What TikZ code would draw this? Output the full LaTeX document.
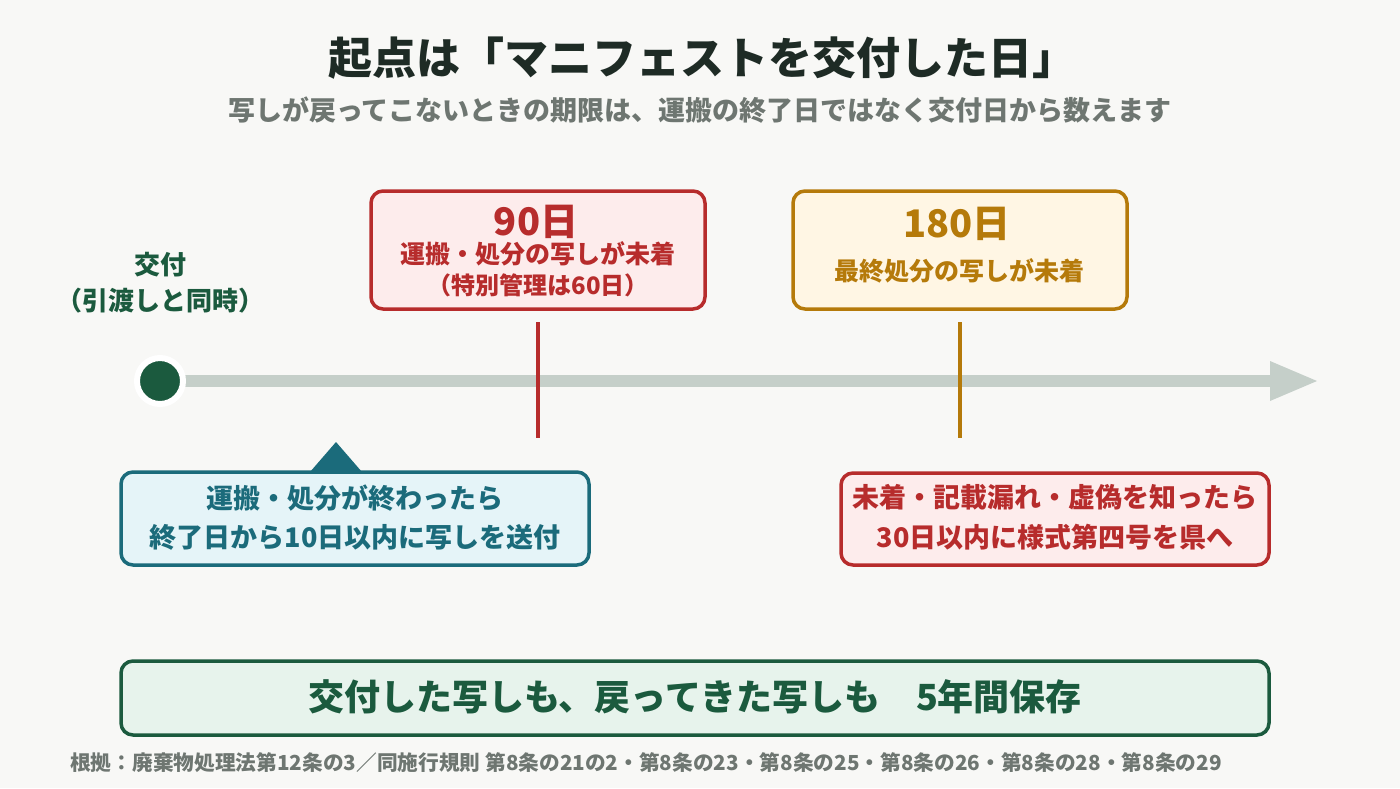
\documentclass[tikz,border=0pt]{standalone}
\usepackage{fontspec}
\setmainfont{Noto Sans CJK JP}
\usetikzlibrary{positioning}

\definecolor{bgc}{HTML}{F8F8F6}
\definecolor{ink}{HTML}{1E2B25}
\definecolor{subc}{HTML}{6E7671}
\definecolor{grn}{HTML}{1B5A3E}
\definecolor{grnfill}{HTML}{E7F3EC}
\definecolor{rail}{HTML}{C5CFC9}
\definecolor{red}{HTML}{B72C2C}
\definecolor{redfill}{HTML}{FDECEC}
\definecolor{gold}{HTML}{B57A0A}
\definecolor{goldfill}{HTML}{FFF6E4}
\definecolor{teal}{HTML}{1B6B7B}
\definecolor{tealfill}{HTML}{E5F4F8}

\newcommand{\fs}[1]{\bfseries\fontsize{#1}{#1}\selectfont}

\begin{document}
\begin{tikzpicture}[x=1pt, y=-1pt,
  card/.style={draw, rectangle, rounded corners=12pt, line width=3.5pt, inner sep=0pt},
  tick/.style={line width=4pt},
  lbl/.style={inner sep=0pt, align=center}
]
  % 背景
  \fill[bgc] (0,0) rectangle (1400,788);
  \useasboundingbox (0,0) rectangle (1400,788);

  % タイトル
  \node[lbl, text=ink, font=\fs{44}] (title) at (702,58) {起点は「マニフェストを交付した日」};
  \node[lbl, text=subc, font=\fs{27}] (sub) at (700,110) {写しが戻ってこないときの期限は、運搬の終了日ではなく交付日から数えます};

  % 時間軸
  \coordinate (railend) at (1272,381);
  \coordinate (tip) at (1317,381);
  \draw[rail, line width=12pt] (160,381) -- (railend);
  \fill[rail] (1270,361) -- (tip) -- (1270,401) -- cycle;
  \node[circle, fill=grn, draw=white, line width=6pt, minimum size=46pt, inner sep=0pt] (start) at (160,381) {};

  % 起点ラベル
  \node[lbl, text=grn, font=\fs{26}] (kofu) at (160,265) {交付};
  \node[lbl, text=grn, font=\fs{26}] (kofu2) at (160,301) {（引渡しと同時）};

  % 90日
  \node[card, draw=red, fill=redfill, minimum width=334pt, minimum height=118pt] (b90) at (538,250) {};
  \node[lbl, text=red, font=\fs{38}] at (536,222) {90日};
  \node[lbl, text=red, font=\fs{25}] at (538,254) {運搬・処分の写しが未着};
  \node[lbl, text=red, font=\fs{24}] at (538,285) {（特別管理は60日）};
  \coordinate (t90a) at (538,322);
  \coordinate (t90b) at (538,438);
  \draw[tick, red] (t90a) -- (t90b);

  % 180日
  \node[card, draw=gold, fill=goldfill, minimum width=334pt, minimum height=118pt] (b180) at (960,250) {};
  \node[lbl, text=gold, font=\fs{38}] at (957,224) {180日};
  \node[lbl, text=gold, font=\fs{25}] at (959,271) {最終処分の写しが未着};
  \coordinate (t180a) at (960,322);
  \coordinate (t180b) at (960,438);
  \draw[tick, gold] (t180a) -- (t180b);

  % 送付期限
  \node[card, draw=teal, fill=tealfill, minimum width=468pt, minimum height=93pt] (send) at (355,518.5) {};
  \fill[teal] (310,472) -- (336,442) -- (362,472) -- cycle;
  \node[lbl, text=teal, font=\fs{27}] at (355,498) {運搬・処分が終わったら};
  \node[lbl, text=teal, font=\fs{27}] at (355,537) {終了日から10日以内に写しを送付};

  % 届出
  \node[card, draw=red, fill=redfill, minimum width=428pt, minimum height=92pt] (report) at (1055,519) {};
  \node[lbl, text=red, font=\fs{27}] at (1055,497) {未着・記載漏れ・虚偽を知ったら};
  \node[lbl, text=red, font=\fs{27}] at (1055,537) {30日以内に様式第四号を県へ};

  % 保存
  \node[card, draw=grn, fill=grnfill, minimum width=1148pt, minimum height=74pt] (keep) at (695,698) {};
  \node[lbl, text=grn, font=\fs{36}] at (695,697) {交付した写しも、戻ってきた写しも\hspace{36pt}5年間保存};

  % 根拠
  \node[lbl, text=subc, font=\fs{20.7}, anchor=west] (src) at (70,763) {根拠：廃棄物処理法第12条の3／同施行規則 第8条の21の2・第8条の23・第8条の25・第8条の26・第8条の28・第8条の29};
\end{tikzpicture}
\end{document}
